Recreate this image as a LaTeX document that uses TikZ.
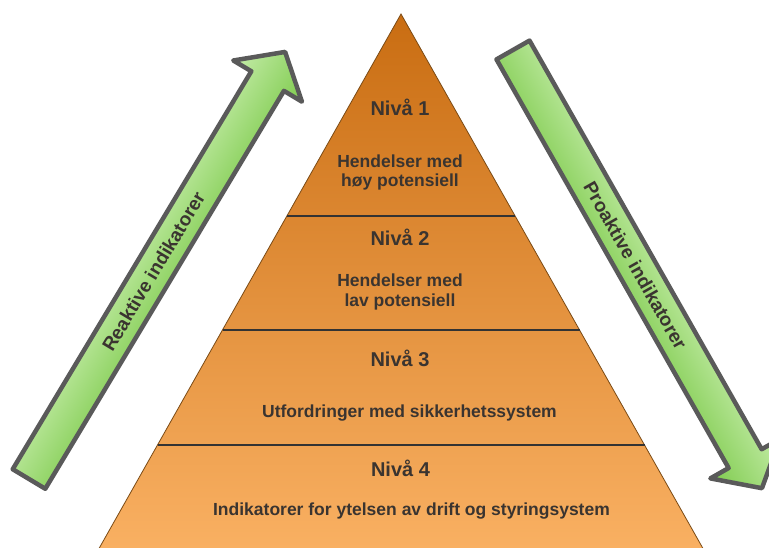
\documentclass[tikz,border=0pt]{standalone}
\usepackage{fontspec}
\setmainfont{Liberation Sans}
\definecolor{txt}{HTML}{3A3430}
\definecolor{pyrtop}{HTML}{C96D12}
\definecolor{pyrmid}{HTML}{E98F30}
\definecolor{pyrbot}{HTML}{F9B062}
\definecolor{pyredge}{HTML}{7A4A15}
\definecolor{gborder}{HTML}{5A5A5A}
\definecolor{glight}{HTML}{C4ECA8}
\definecolor{gmid}{HTML}{A2DC78}
\definecolor{gdark}{HTML}{7FCB4E}
\begin{document}
\begin{tikzpicture}[x=1pt,y=-1pt,
  lvl/.style={font=\fontsize{20}{24}\selectfont\bfseries, text=txt, anchor=base, inner sep=0pt},
  desc/.style={font=\fontsize{17.5}{20}\selectfont\bfseries, text=txt, anchor=base, inner sep=0pt},
  arrowtext/.style={font=\fontsize{19}{22}\selectfont\bfseries, text=txt, inner sep=0pt},
  greenarrow/.style={draw=gborder, line width=4.5pt, line join=round, top color=glight, middle color=gmid, bottom color=gdark},
  divider/.style={draw=black!80, line width=1.2pt}]

\useasboundingbox (0,0) rectangle (769,548);
\clip (0,0) rectangle (769,548);
\fill[white] (0,0) rectangle (769,548);

% pyramid
\coordinate (apex) at (401,14);
\coordinate (bl) at (99.3,548);
\coordinate (br) at (702.7,548);
\path[top color=pyrtop, middle color=pyrmid, bottom color=pyrbot] (apex) -- (br) -- (bl) -- cycle;
\draw[pyredge, line width=0.8pt] (bl) -- (apex) -- (br);

\coordinate (d1l) at (286.9,216);
\coordinate (d1r) at (515.1,216);
\coordinate (d2l) at (222.5,330);
\coordinate (d2r) at (579.5,330);
\coordinate (d3l) at (157.5,445);
\coordinate (d3r) at (644.5,445);
\draw[divider] (d1l) -- (d1r);
\draw[divider] (d2l) -- (d2r);
\draw[divider] (d3l) -- (d3r);

\node[lvl] (n1) at (400,116) {Nivå 1};
\node[desc] (h1a) at (400,167.3) {Hendelser med};
\node[desc] (h1b) at (400,186.5) {høy potensiell};
\node[lvl] (n2) at (400,246) {Nivå 2};
\node[desc] (h2a) at (400,286.7) {Hendelser med};
\node[desc] (h2b) at (400,306.7) {lav potensiell};
\node[lvl] (n3) at (400,366.7) {Nivå 3};
\node[desc] (h3) at (409.5,417.3) {Utfordringer med sikkerhetssystem};
\node[lvl] (n4) at (400.5,476.7) {Nivå 4};
\node[desc] (h4) at (411.5,515) {Indikatorer for ytelsen av drift og styringsystem};

% left arrow
\begin{scope}[transform canvas={shift={(29,479)}, rotate=59.05}]
  \path[greenarrow] (0,-19) -- (464,-19) -- (464,-40) -- (498,0) -- (464,40) -- (464,19) -- (0,19) -- cycle;
  \node[arrowtext] (reak) at (242,0) {Reaktive indikatorer};
\end{scope}

% right arrow
\begin{scope}[transform canvas={shift={(513,50)}, rotate=-60.4}]
  \path[greenarrow] (0,-19) -- (470,-19) -- (470,-40) -- (504,0) -- (470,40) -- (470,19) -- (0,19) -- cycle;
  \node[arrowtext] (proak) at (248,0) {Proaktive indikatorer};
\end{scope}
\end{tikzpicture}
\end{document}
